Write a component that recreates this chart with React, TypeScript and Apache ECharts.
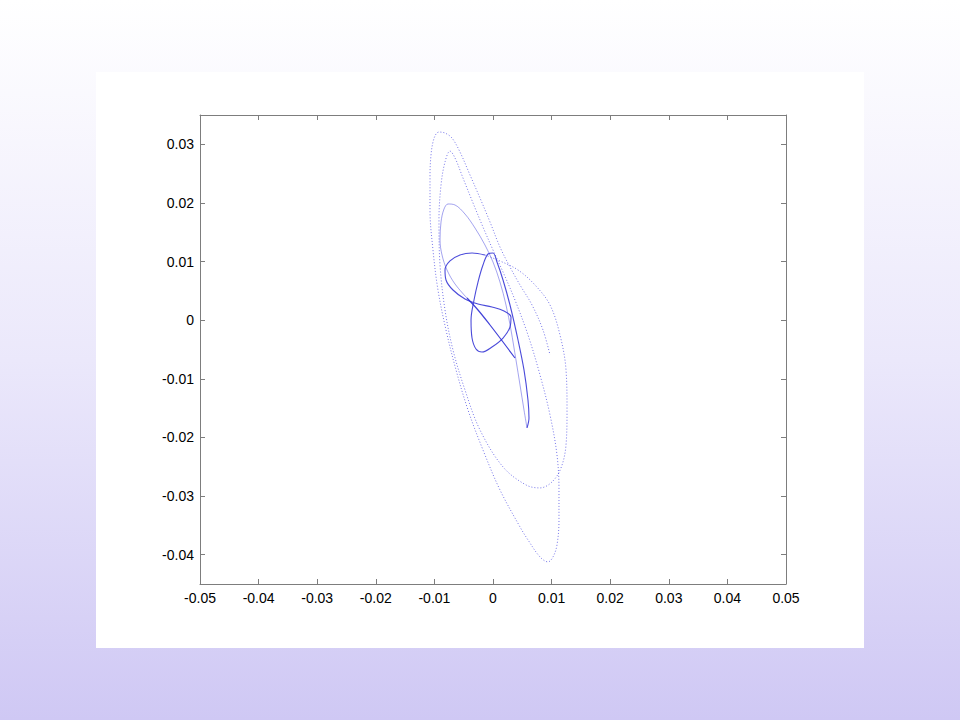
import React, { useEffect, useRef } from "react";
import * as echarts from "echarts";

// Axis ranges and tick labels (data units)
const xRange = [-0.05, 0.05];
const yRange = [-0.045, 0.035];
const xTicks = [-0.05, -0.04, -0.03, -0.02, -0.01, 0, 0.01, 0.02, 0.03, 0.04, 0.05];
const yTicks = [-0.04, -0.03, -0.02, -0.01, 0, 0.01, 0.02, 0.03];

// Trajectory, split by how dense the plotted dots are
const tailPath = [
  [0.00375, -0.00645], [0.00171, -0.00372], [-0.00051, -0.00082], [-0.00256, 0.00174], [-0.00444, 0.00378],
];

const loopCPath = [
  [-0.00444, 0.00378], [-0.00648, 0.00617], [-0.00785, 0.00856], [-0.0087, 0.01112], [-0.00904, 0.01368],
  [-0.00887, 0.01675], [-0.00836, 0.01896], [-0.00768, 0.01982], [-0.00648, 0.01965], [-0.00478, 0.01811],
  [-0.00307, 0.01572], [-0.00137, 0.01282], [0.0, 0.00992], [0.00119, 0.00651], [0.00222, 0.00259],
  [0.00307, -0.00167], [0.00392, -0.00679], [0.00461, -0.01105], [0.00529, -0.01531], [0.0058, -0.01838],
];

const figureEightPath = [
  [0.0058, -0.01838], [0.00614, -0.01668], [0.00597, -0.01361], [0.00529, -0.00849], [0.00427, -0.00338],
  [0.0029, 0.00259], [0.00171, 0.00686], [0.00068, 0.00992], [0.0, 0.01146], [-0.00085, 0.01129],
  [-0.00171, 0.00941], [-0.00256, 0.00651], [-0.00324, 0.00344], [-0.00375, 0.00003], [-0.00358, -0.00304],
  [-0.0029, -0.00491], [-0.00188, -0.00542], [-0.00017, -0.00457], [0.00171, -0.00304], [0.0029, -0.00116],
  [0.00307, 0.00055], [0.00188, 0.00157], [-0.00017, 0.00225], [-0.00256, 0.00276], [-0.00478, 0.00362],
  [-0.00683, 0.00515], [-0.00802, 0.00686], [-0.00819, 0.00856], [-0.00734, 0.0101], [-0.00563, 0.01112],
  [-0.00358, 0.01146], [-0.00137, 0.01112],
];

const outerPath = [
  [-0.00137, 0.01112], [0.00119, 0.0101], [0.00427, 0.00856], [0.00717, 0.006], [0.00973, 0.00259],
  [0.01143, -0.00252], [0.01246, -0.00849], [0.01263, -0.01531], [0.01246, -0.02128], [0.0116, -0.02521],
  [0.01007, -0.02759], [0.00802, -0.02861], [0.00563, -0.0281], [0.00171, -0.02503], [-0.00222, -0.01872],
  [-0.00478, -0.0119], [-0.00683, -0.00508], [-0.00819, 0.00174], [-0.00904, 0.00941], [-0.00922, 0.01709],
  [-0.00887, 0.02306], [-0.00819, 0.02698], [-0.00734, 0.02885], [-0.00648, 0.02766], [-0.00512, 0.02425],
  [-0.00341, 0.01999], [-0.00171, 0.01589], [0.0, 0.01197], [0.00171, 0.00822], [0.00375, 0.00344],
  [0.00597, -0.00252], [0.00802, -0.00934], [0.00973, -0.01617], [0.01092, -0.02299], [0.01126, -0.02895],
  [0.01126, -0.03407], [0.01092, -0.03834], [0.01024, -0.04038], [0.00939, -0.04123], [0.00802, -0.04038],
  [0.00597, -0.03748], [0.00461, -0.03527], [0.00119, -0.02895], [-0.00171, -0.02213], [-0.00427, -0.01531],
  [-0.00631, -0.00849], [-0.00802, -0.00167], [-0.00939, 0.00515], [-0.01024, 0.01197], [-0.01075, 0.01879],
  [-0.01075, 0.02476], [-0.01058, 0.02817], [-0.01024, 0.03039], [-0.00973, 0.03175], [-0.00922, 0.03209],
  [-0.00819, 0.03192], [-0.007, 0.03107], [-0.00563, 0.02868], [-0.00392, 0.02476], [-0.00222, 0.02084],
  [-0.00051, 0.01675], [0.00119, 0.01248], [0.0029, 0.00907], [0.00461, 0.006], [0.00666, 0.00259],
  [0.00853, -0.00167], [0.00973, -0.00594],
];

const fmt = (v: number) => {
  const s = v.toFixed(2);
  return s === "0.00" || s === "-0.00" ? "0" : s;
};

const axisColor = "#7d7d7d";
const labelFont = { fontFamily: "Liberation Sans, Arial, sans-serif", fontSize: 14, color: "#000" };

export default function App() {
  const ref = useRef<HTMLDivElement>(null);

  useEffect(() => {
    if (!ref.current) return;
    const chart = echarts.init(ref.current, undefined, { renderer: "svg" });
    const lineSeries = (data: number[][], color: string, width: number, type: any, opacity: number) => ({
      type: "line",
      data,
      showSymbol: false,
      symbol: "none",
      smooth: 0.35,
      silent: true,
      lineStyle: { color, width, type, opacity },
    });
    chart.setOption({
      animation: false,
      backgroundColor: "transparent",
      grid: { left: 200, top: 115, width: 586, height: 469, containLabel: false },
      xAxis: [
        {
          type: "value",
          min: xRange[0],
          max: xRange[1],
          interval: 0.01,
          position: "bottom",
          axisLine: { show: true, onZero: false, lineStyle: { color: axisColor, width: 1 } },
          axisTick: { show: true, inside: true, length: 5, lineStyle: { color: axisColor } },
          axisLabel: { ...labelFont, margin: 7, formatter: fmt, customValues: xTicks },
          splitLine: { show: false },
        },
        {
          type: "value",
          min: xRange[0],
          max: xRange[1],
          interval: 0.01,
          position: "top",
          axisLine: { show: true, onZero: false, lineStyle: { color: axisColor, width: 1 } },
          axisTick: { show: true, inside: true, length: 5, lineStyle: { color: axisColor } },
          axisLabel: { show: false },
          splitLine: { show: false },
        },
      ],
      yAxis: [
        {
          type: "value",
          min: yRange[0],
          max: yRange[1],
          position: "left",
          axisLine: { show: true, onZero: false, lineStyle: { color: axisColor, width: 1 } },
          axisTick: { show: true, inside: true, length: 5, lineStyle: { color: axisColor }, customValues: yTicks },
          axisLabel: { ...labelFont, margin: 6, formatter: fmt, customValues: yTicks },
          splitLine: { show: false },
        },
        {
          type: "value",
          min: yRange[0],
          max: yRange[1],
          position: "right",
          axisLine: { show: true, onZero: false, lineStyle: { color: axisColor, width: 1 } },
          axisTick: { show: true, inside: true, length: 5, lineStyle: { color: axisColor }, customValues: yTicks },
          axisLabel: { show: false, customValues: yTicks },
          splitLine: { show: false },
        },
      ],
      series: [
        lineSeries(outerPath, "#3b3be0", 1, [1, 2], 0.7),
        lineSeries(loopCPath, "#4a4ae0", 1, "solid", 0.5),
        lineSeries(figureEightPath, "#2c2cd4", 1.1, "solid", 0.85),
        lineSeries(tailPath, "#2c2cd4", 1.2, "solid", 0.9),
      ],
    });
    return () => chart.dispose();
  }, []);

  return (
    <div
      style={{
        position: "fixed",
        left: 0,
        top: 0,
        width: 960,
        height: 720,
        background: "linear-gradient(to bottom, #ffffff 0%, #ebe8fb 50%, #cfc8f4 100%)",
      }}
    >
      <div style={{ position: "absolute", left: 96, top: 72, width: 768, height: 576, background: "#ffffff" }} />
      <div ref={ref} style={{ position: "absolute", left: 0, top: 0, width: 960, height: 720 }} />
    </div>
  );
}
